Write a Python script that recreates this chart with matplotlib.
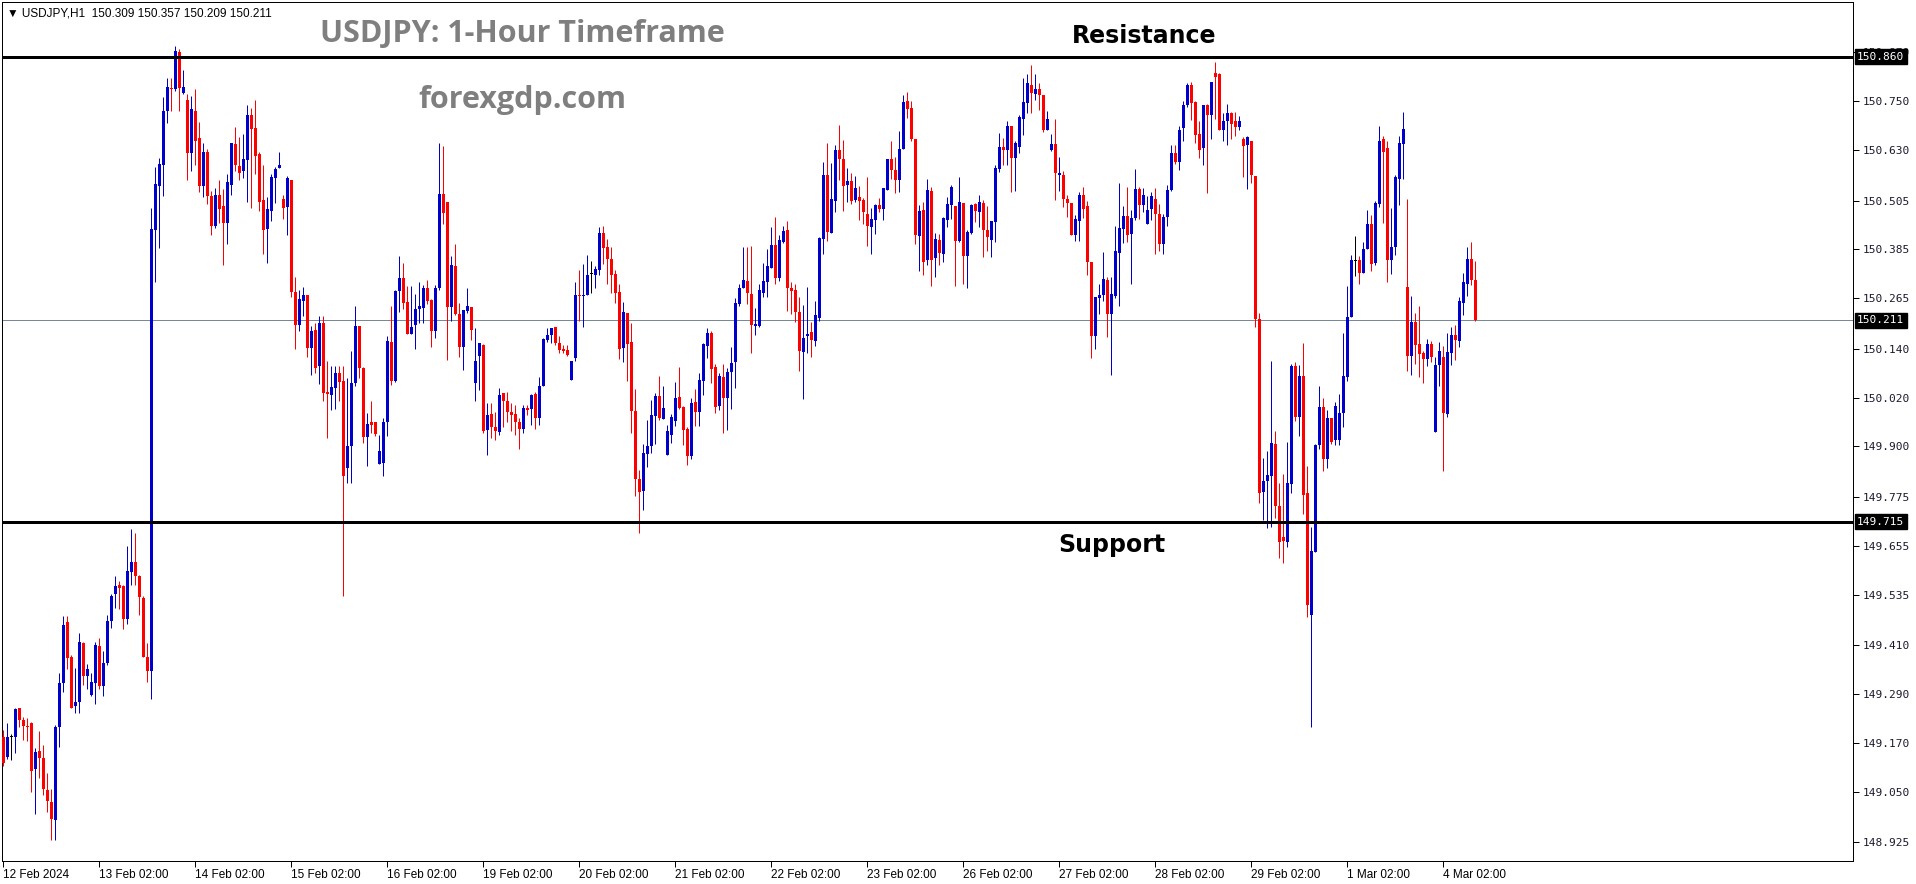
import numpy as np
import matplotlib
matplotlib.use("Agg")
import matplotlib.pyplot as plt

# ----------------------
# 1) Hourly candles, USDJPY H1 (read off the chart), oldest first
# ----------------------
opens = [
    149.184, 149.135, 149.184, 149.184, 149.256, 149.227, 149.211, 149.219, 149.105, 149.151,
    149.133, 149.054, 149.025, 148.980, 149.209, 149.317, 149.467, 149.381, 149.260, 149.272,
    149.416, 149.336, 149.289, 149.317, 149.409, 149.311, 149.368, 149.470, 149.537, 149.559,
    149.556, 149.474, 149.591, 149.616, 149.580, 149.527, 149.381, 149.346, 150.433, 150.542,
    150.592, 150.726, 150.782, 150.780, 150.870, 150.771, 150.754, 150.623, 150.727, 150.660,
    150.541, 150.626, 150.517, 150.442, 150.518, 150.491, 150.449, 150.543, 150.644, 150.590,
    150.577, 150.605, 150.715, 150.683, 150.620, 150.506, 150.435, 150.479, 150.561, 150.586,
    150.508, 150.489, 150.555, 150.281, 150.200, 150.258, 150.273, 150.143, 150.186, 150.097,
    150.205, 150.035, 150.026, 150.045, 150.080, 150.060, 149.847, 149.900, 150.055, 150.196,
    150.092, 149.923, 149.959, 149.961, 149.857, 149.859, 149.961, 150.157, 150.062, 150.283,
    150.314, 150.255, 150.177, 150.200, 150.238, 150.242, 150.290, 150.261, 150.183, 150.291,
    150.522, 150.502, 150.244, 150.345, 150.227, 150.145, 150.234, 150.244, 150.057, 150.122,
    150.150, 149.941, 149.980, 149.948, 149.935, 150.031, 150.012, 149.985, 149.980, 149.959,
    149.943, 149.994, 149.992, 150.029, 149.970, 150.048, 150.163, 150.175, 150.194, 150.154,
    150.139, 150.137, 150.063, 150.118, 150.274, 150.270, 150.274, 150.324, 150.322, 150.334,
    150.426, 150.392, 150.361, 150.324, 150.281, 150.143, 150.229, 150.157, 149.987, 149.819,
    149.790, 149.881, 149.901, 149.975, 150.024, 149.967, 149.879, 149.928, 149.962, 150.022,
    149.998, 149.944, 149.876, 150.010, 149.985, 150.061, 150.148, 150.180, 150.096, 150.000,
    150.071, 150.020, 150.084, 150.108, 150.250, 150.291, 150.307, 150.275, 150.196, 150.196,
    150.278, 150.305, 150.340, 150.396, 150.315, 150.404, 150.433, 150.291, 150.285, 150.232,
    150.133, 150.172, 150.181, 150.160, 150.217, 150.410, 150.568, 150.426, 150.505, 150.630,
    150.607, 150.543, 150.553, 150.507, 150.513, 150.507, 150.472, 150.441, 150.457, 150.494,
    150.484, 150.531, 150.607, 150.580, 150.556, 150.632, 150.751, 150.732, 150.657, 150.419,
    150.482, 150.359, 150.528, 150.363, 150.409, 150.373, 150.458, 150.495, 150.491, 150.407,
    150.500, 150.368, 150.426, 150.496, 150.477, 150.500, 150.434, 150.409, 150.452, 150.582,
    150.638, 150.631, 150.688, 150.610, 150.638, 150.707, 150.745, 150.791, 150.768, 150.780,
    150.764, 150.680, 150.630, 150.645, 150.569, 150.569, 150.510, 150.499, 150.421, 150.456,
    150.518, 150.491, 150.355, 150.171, 150.266, 150.272, 150.310, 150.226, 150.271, 150.377,
    150.435, 150.467, 150.424, 150.462, 150.533, 150.495, 150.448, 150.484, 150.509, 150.473,
    150.399, 150.464, 150.531, 150.623, 150.601, 150.683, 150.740, 150.789, 150.748, 150.669,
    150.634, 150.740, 150.715, 150.819, 150.816, 150.680, 150.700, 150.720, 150.700, 150.686,
    150.656, 150.642, 150.651, 150.566, 150.214, 149.788, 149.815, 149.827, 149.906, 149.753,
    149.677, 149.666, 149.808, 150.099, 149.973, 150.073, 149.785, 149.485, 149.641, 149.904,
    149.998, 149.870, 149.969, 149.916, 149.916, 149.983, 150.071, 150.218, 150.357, 150.359,
    150.326, 150.387, 150.448, 150.352, 150.497, 150.658, 150.635, 150.359, 150.390, 150.559,
    150.644, 150.293, 150.122, 150.206, 150.152, 150.131, 150.116, 150.152, 149.935, 150.101,
    150.121, 149.979, 150.129, 150.175, 150.160, 150.252, 150.301, 150.361, 150.309,
]
highs = [
    149.202, 149.219, 149.192, 149.256, 149.256, 149.234, 149.232, 149.222, 149.158, 149.199,
    149.164, 149.097, 149.056, 149.215, 149.343, 149.482, 149.482, 149.387, 149.355, 149.440,
    149.419, 149.365, 149.343, 149.419, 149.428, 149.396, 149.485, 149.537, 149.580, 149.569,
    149.559, 149.654, 149.696, 149.688, 149.584, 149.533, 149.415, 150.487, 150.589, 150.611,
    150.761, 150.808, 150.808, 150.885, 150.879, 150.827, 150.767, 150.762, 150.779, 150.699,
    150.646, 150.633, 150.530, 150.537, 150.555, 150.535, 150.570, 150.646, 150.686, 150.662,
    150.668, 150.740, 150.733, 150.752, 150.624, 150.594, 150.515, 150.570, 150.587, 150.626,
    150.518, 150.567, 150.555, 150.316, 150.284, 150.293, 150.273, 150.196, 150.205, 150.220,
    150.220, 150.110, 150.099, 150.099, 150.098, 150.098, 150.069, 150.136, 150.247, 150.196,
    150.095, 149.983, 150.011, 149.961, 149.929, 149.970, 150.171, 150.245, 150.286, 150.369,
    150.351, 150.294, 150.294, 150.275, 150.305, 150.298, 150.310, 150.263, 150.298, 150.647,
    150.639, 150.502, 150.369, 150.399, 150.253, 150.236, 150.290, 150.244, 150.191, 150.154,
    150.153, 150.007, 150.008, 149.984, 150.044, 150.031, 150.035, 150.007, 150.003, 149.970,
    150.002, 150.003, 150.030, 150.034, 150.070, 150.167, 150.191, 150.191, 150.194, 150.171,
    150.149, 150.149, 150.110, 150.305, 150.334, 150.349, 150.371, 150.356, 150.344, 150.441,
    150.442, 150.410, 150.392, 150.334, 150.300, 150.255, 150.229, 150.204, 150.041, 149.842,
    149.906, 149.966, 150.014, 150.032, 150.073, 150.048, 149.952, 149.979, 150.059, 150.096,
    150.000, 149.947, 150.020, 150.041, 150.081, 150.155, 150.192, 150.184, 150.104, 150.080,
    150.104, 150.092, 150.145, 150.266, 150.300, 150.392, 150.392, 150.393, 150.242, 150.300,
    150.351, 150.386, 150.441, 150.465, 150.420, 150.443, 150.455, 150.304, 150.300, 150.268,
    150.248, 150.293, 150.207, 150.258, 150.416, 150.601, 150.648, 150.598, 150.642, 150.691,
    150.654, 150.586, 150.574, 150.566, 150.541, 150.511, 150.564, 150.486, 150.498, 150.512,
    150.537, 150.607, 150.652, 150.612, 150.677, 150.765, 150.772, 150.751, 150.657, 150.494,
    150.502, 150.558, 150.538, 150.425, 150.422, 150.464, 150.514, 150.544, 150.493, 150.563,
    150.500, 150.434, 150.496, 150.499, 150.520, 150.507, 150.491, 150.456, 150.592, 150.671,
    150.659, 150.700, 150.690, 150.653, 150.715, 150.807, 150.817, 150.840, 150.817, 150.794,
    150.764, 150.725, 150.668, 150.705, 150.612, 150.577, 150.520, 150.499, 150.471, 150.526,
    150.538, 150.505, 150.355, 150.269, 150.299, 150.378, 150.317, 150.317, 150.442, 150.549,
    150.493, 150.538, 150.482, 150.584, 150.538, 150.536, 150.517, 150.527, 150.536, 150.498,
    150.473, 150.544, 150.641, 150.641, 150.689, 150.751, 150.795, 150.797, 150.751, 150.702,
    150.740, 150.742, 150.798, 150.846, 150.820, 150.722, 150.742, 150.724, 150.724, 150.713,
    150.661, 150.664, 150.651, 150.566, 150.228, 149.871, 149.890, 150.111, 149.939, 149.810,
    149.832, 149.911, 150.104, 150.108, 150.101, 150.155, 149.851, 149.702, 149.907, 150.049,
    150.019, 149.989, 149.971, 150.009, 150.029, 150.180, 150.295, 150.372, 150.419, 150.370,
    150.403, 150.482, 150.469, 150.505, 150.690, 150.665, 150.651, 150.487, 150.569, 150.664,
    150.724, 150.510, 150.270, 150.228, 150.247, 150.136, 150.165, 150.160, 150.121, 150.158,
    150.148, 150.180, 150.193, 150.198, 150.269, 150.326, 150.392, 150.403, 150.357,
]
lows = [
    149.114, 149.130, 149.129, 149.145, 149.209, 149.177, 149.175, 149.050, 148.995, 149.084,
    149.041, 148.999, 148.932, 148.932, 149.161, 149.295, 149.351, 149.256, 149.245, 149.243,
    149.313, 149.304, 149.285, 149.266, 149.304, 149.285, 149.362, 149.454, 149.502, 149.499,
    149.451, 149.463, 149.559, 149.559, 149.485, 149.381, 149.321, 149.279, 150.305, 150.389,
    150.517, 150.697, 150.725, 150.776, 150.726, 150.767, 150.557, 150.579, 150.594, 150.526,
    150.513, 150.497, 150.420, 150.438, 150.449, 150.346, 150.398, 150.520, 150.579, 150.555,
    150.561, 150.501, 150.488, 150.570, 150.479, 150.374, 150.352, 150.455, 150.499, 150.586,
    150.460, 150.420, 150.268, 150.140, 150.183, 150.222, 150.120, 150.077, 150.082, 150.054,
    150.011, 149.922, 149.989, 149.992, 150.011, 149.532, 149.809, 149.809, 150.048, 150.069,
    149.908, 149.853, 149.932, 149.926, 149.857, 149.828, 149.926, 150.052, 150.058, 150.230,
    150.238, 150.177, 150.177, 150.140, 150.204, 150.205, 150.250, 150.144, 150.167, 150.286,
    150.448, 150.113, 150.210, 150.224, 150.119, 150.087, 150.228, 150.163, 150.011, 150.039,
    149.934, 149.878, 149.920, 149.915, 149.929, 149.949, 149.961, 149.939, 149.929, 149.894,
    149.933, 149.978, 149.953, 149.943, 149.953, 150.048, 150.158, 150.154, 150.150, 150.130,
    150.131, 150.123, 150.063, 150.110, 150.209, 150.195, 150.273, 150.278, 150.289, 150.322,
    150.349, 150.299, 150.277, 150.254, 150.115, 150.108, 150.061, 149.934, 149.778, 149.687,
    149.743, 149.850, 149.883, 149.907, 149.965, 149.967, 149.879, 149.909, 149.950, 149.991,
    149.903, 149.854, 149.870, 149.950, 149.950, 150.026, 150.118, 150.055, 149.983, 149.989,
    149.934, 149.940, 149.991, 150.043, 150.246, 150.289, 150.250, 150.131, 150.174, 150.193,
    150.268, 150.268, 150.340, 150.300, 150.308, 150.401, 150.234, 150.227, 150.207, 150.086,
    150.018, 150.131, 150.121, 150.148, 150.209, 150.375, 150.406, 150.426, 150.478, 150.556,
    150.480, 150.502, 150.498, 150.502, 150.457, 150.447, 150.394, 150.375, 150.422, 150.476,
    150.457, 150.531, 150.558, 150.525, 150.527, 150.632, 150.708, 150.652, 150.398, 150.332,
    150.322, 150.346, 150.295, 150.317, 150.347, 150.354, 150.441, 150.459, 150.295, 150.403,
    150.299, 150.290, 150.423, 150.452, 150.440, 150.366, 150.380, 150.366, 150.403, 150.575,
    150.592, 150.594, 150.526, 150.530, 150.622, 150.666, 150.721, 150.721, 150.753, 150.729,
    150.674, 150.678, 150.627, 150.507, 150.528, 150.489, 150.464, 150.421, 150.407, 150.405,
    150.462, 150.322, 150.118, 150.140, 150.226, 150.258, 150.169, 150.077, 150.266, 150.247,
    150.402, 150.404, 150.301, 150.457, 150.459, 150.478, 150.448, 150.457, 150.375, 150.380,
    150.373, 150.443, 150.530, 150.595, 150.580, 150.653, 150.735, 150.704, 150.647, 150.609,
    150.593, 150.525, 150.656, 150.707, 150.680, 150.651, 150.642, 150.656, 150.664, 150.680,
    150.563, 150.533, 150.549, 150.195, 149.762, 149.720, 149.699, 149.701, 149.723, 149.626,
    149.614, 149.652, 149.786, 149.963, 149.925, 149.733, 149.480, 149.209, 149.641, 149.894,
    149.840, 149.846, 149.907, 149.904, 149.904, 149.948, 150.060, 150.218, 150.320, 150.300,
    150.326, 150.385, 150.331, 150.346, 150.490, 150.451, 150.306, 150.324, 150.372, 150.495,
    150.559, 150.086, 150.075, 150.102, 150.071, 150.055, 150.099, 150.109, 149.935, 150.050,
    149.840, 149.973, 150.101, 150.114, 150.145, 150.223, 150.270, 150.298, 150.209,
]
closes = [
    149.120, 149.184, 149.184, 149.254, 149.227, 149.211, 149.209, 149.101, 149.148, 149.133,
    149.056, 149.027, 148.983, 149.209, 149.317, 149.461, 149.378, 149.257, 149.272, 149.419,
    149.336, 149.353, 149.320, 149.410, 149.311, 149.368, 149.470, 149.533, 149.556, 149.552,
    149.474, 149.593, 149.616, 149.580, 149.530, 149.381, 149.346, 150.436, 150.547, 150.595,
    150.726, 150.784, 150.780, 150.873, 150.782, 150.784, 150.623, 150.730, 150.653, 150.541,
    150.626, 150.516, 150.442, 150.520, 150.485, 150.449, 150.550, 150.646, 150.592, 150.574,
    150.607, 150.715, 150.682, 150.616, 150.501, 150.434, 150.484, 150.563, 150.583, 150.592,
    150.486, 150.561, 150.281, 150.200, 150.262, 150.273, 150.143, 150.183, 150.092, 150.205,
    150.032, 150.029, 150.047, 150.080, 150.058, 149.827, 149.900, 150.055, 150.196, 150.092,
    149.923, 149.956, 149.952, 149.930, 149.889, 149.961, 150.160, 150.062, 150.283, 150.314,
    150.254, 150.177, 150.195, 150.238, 150.246, 150.290, 150.257, 150.183, 150.291, 150.522,
    150.474, 150.244, 150.347, 150.227, 150.145, 150.236, 150.246, 150.186, 150.111, 150.154,
    149.939, 149.978, 149.948, 149.937, 150.027, 150.011, 149.984, 149.978, 149.959, 149.943,
    149.994, 149.989, 150.027, 149.970, 150.048, 150.164, 150.175, 150.191, 150.154, 150.138,
    150.135, 150.126, 150.110, 150.274, 150.270, 150.274, 150.322, 150.324, 150.337, 150.426,
    150.389, 150.361, 150.323, 150.278, 150.140, 150.231, 150.152, 149.987, 149.819, 149.787,
    149.884, 149.901, 149.977, 150.024, 149.969, 149.994, 149.939, 149.973, 150.020, 149.994,
    149.940, 149.876, 150.007, 149.985, 150.063, 150.151, 150.180, 150.090, 149.998, 150.074,
    150.020, 150.084, 150.106, 150.254, 150.291, 150.310, 150.277, 150.199, 150.201, 150.285,
    150.307, 150.344, 150.396, 150.315, 150.408, 150.430, 150.291, 150.282, 150.230, 150.136,
    150.168, 150.178, 150.162, 150.223, 150.412, 150.568, 150.427, 150.509, 150.630, 150.607,
    150.542, 150.553, 150.505, 150.537, 150.505, 150.478, 150.443, 150.460, 150.494, 150.484,
    150.537, 150.607, 150.580, 150.557, 150.632, 150.747, 150.731, 150.656, 150.420, 150.479,
    150.355, 150.531, 150.360, 150.411, 150.376, 150.462, 150.497, 150.538, 150.405, 150.503,
    150.368, 150.427, 150.495, 150.479, 150.503, 150.432, 150.415, 150.454, 150.585, 150.638,
    150.629, 150.690, 150.610, 150.647, 150.711, 150.749, 150.794, 150.770, 150.780, 150.764,
    150.680, 150.707, 150.645, 150.574, 150.573, 150.510, 150.499, 150.421, 150.459, 150.518,
    150.485, 150.354, 150.171, 150.269, 150.274, 150.313, 150.226, 150.276, 150.382, 150.438,
    150.467, 150.421, 150.462, 150.533, 150.495, 150.520, 150.482, 150.517, 150.473, 150.399,
    150.464, 150.531, 150.623, 150.601, 150.680, 150.740, 150.789, 150.746, 150.667, 150.631,
    150.740, 150.715, 150.798, 150.809, 150.680, 150.700, 150.720, 150.693, 150.686, 150.700,
    150.639, 150.661, 150.569, 150.214, 149.786, 149.816, 149.830, 149.908, 149.753, 149.664,
    149.668, 149.810, 150.099, 149.973, 150.073, 149.781, 149.510, 149.643, 149.904, 149.996,
    149.870, 149.971, 149.911, 149.999, 149.983, 150.073, 150.218, 150.359, 150.357, 150.326,
    150.387, 150.448, 150.349, 150.500, 150.653, 150.625, 150.359, 150.390, 150.564, 150.648,
    150.681, 150.122, 150.206, 150.150, 150.127, 150.116, 150.152, 150.121, 150.101, 150.134,
    149.983, 150.132, 150.175, 150.162, 150.257, 150.305, 150.361, 150.311, 150.211,
]

# time axis labels (one every 24 bars, MT4 style)
date_labels = ["12 Feb 2024", "13 Feb 02:00", "14 Feb 02:00", "15 Feb 02:00", "16 Feb 02:00",
               "19 Feb 02:00", "20 Feb 02:00", "21 Feb 02:00", "22 Feb 02:00", "23 Feb 02:00",
               "26 Feb 02:00", "27 Feb 02:00", "28 Feb 02:00", "29 Feb 02:00", "1 Mar 02:00",
               "4 Mar 02:00"]
date_bars = [0, 24, 48, 72, 96, 120, 144, 168, 192, 216, 240, 264, 288, 312, 336, 360]

price_ticks = [148.925, 149.050, 149.170, 149.290, 149.410, 149.535, 149.655, 149.775,
               149.900, 150.020, 150.140, 150.265, 150.385, 150.505, 150.630, 150.750, 150.870]

resistance = 150.860
support = 149.715
last_price = 150.211
header = "\u25BC USDJPY,H1  150.309 150.357 150.209 150.211"

# ----------------------
# 2) Figure / axes (pixel layout of the MT4 window)
# ----------------------
W, H = 1916, 884
fig = plt.figure(figsize=(W / 100, H / 100), dpi=100)
fig.patch.set_facecolor("white")
ax_left, ax_right, ax_top, ax_bot = 2, 1853, 1.5, 861
ax = fig.add_axes([ax_left / W, 1 - ax_bot / H, (ax_right - ax_left) / W, (ax_bot - ax_top) / H])

o = np.array(opens); h = np.array(highs); l = np.array(lows); c = np.array(closes)
x = np.arange(len(c))

BLUE, RED = "#0000CD", "#FF0000"
colors = []
for oo, cc in zip(o, c):
    if abs(cc - oo) < 0.0005:
        colors.append("black")
    elif cc > oo:
        colors.append(BLUE)
    else:
        colors.append(RED)

px = 0.72  # 1 pixel in points
ax.vlines(x, l, h, colors=colors, lw=px, zorder=2)
body_lo = np.minimum(o, c)
body_h = np.maximum(np.abs(c - o), 0.0022)
ax.bar(x, body_h, bottom=body_lo, width=0.68, color=colors, linewidth=0, zorder=3)

# support / resistance / last price
ax.axhline(resistance, color="black", lw=3 * px, zorder=4)
ax.axhline(support, color="black", lw=3 * px, zorder=4)
ax.axhline(last_price, color="#778899", lw=px, zorder=1)

# pixel -> index mapping: bar i sits at 3.3 + 4 i px
ax.set_xlim((ax_left - 3.3) / 4, (ax_right - 3.3) / 4)
ppy = 406.2  # pixels per yen
ax.set_ylim(resistance - (ax_bot - 56.5) / ppy, resistance + (56.5 - ax_top) / ppy)

for s in ax.spines.values():
    s.set_linewidth(px)
    s.set_color("black")

# x axis
ax.set_xticks(date_bars)
ax.set_xticklabels(date_labels, ha="left", fontsize=8.5, family="Liberation Sans")
ax.tick_params(axis="x", direction="out", length=4, width=px, pad=1.5)

# y axis on the right (150.870 sits half hidden under the resistance tag, as in MT4)
ax.yaxis.tick_right()
ax.set_yticks(price_ticks)
ax.set_yticklabels([f"{v:.3f}" for v in price_ticks], fontsize=8, family="DejaVu Sans Mono",
                   color="#1a1a2e")
ax.tick_params(axis="y", direction="out", length=4, width=px, pad=3)

for val in (resistance, last_price, support):
    ax.annotate(f"{val:.3f}", xy=(1.0, val), xycoords=("axes fraction", "data"),
                xytext=(3, 0), textcoords="offset points", ha="left", va="center",
                fontsize=8, family="DejaVu Sans Mono", color="white", zorder=10,
                bbox=dict(boxstyle="square,pad=0.22", fc="black", ec="black"),
                annotation_clip=False)

# ----------------------
# 3) Text
# ----------------------
def fx(p):
    return p / W

def fy(p):
    return 1 - p / H

fig.text(fx(7), fy(13), header, fontsize=8.5, family=["Liberation Sans", "DejaVu Sans"],
         ha="left", va="center")
fig.text(fx(522), fy(34), "USDJPY: 1-Hour Timeframe", fontsize=22, family="Open Sans",
         weight="bold", color="#7f7f7f", ha="center", va="center")
fig.text(fx(522), fy(100), "forexgdp.com", fontsize=22, family="Open Sans",
         weight="bold", color="#7f7f7f", ha="center", va="center")
fig.text(fx(1144), fy(36), "Resistance", fontsize=17, family="DejaVu Sans",
         weight="bold", color="black", ha="center", va="center")
fig.text(fx(1112), fy(545), "Support", fontsize=17, family="DejaVu Sans",
         weight="bold", color="black", ha="center", va="center")

fig.savefig("out.png", dpi=100, facecolor="white")
